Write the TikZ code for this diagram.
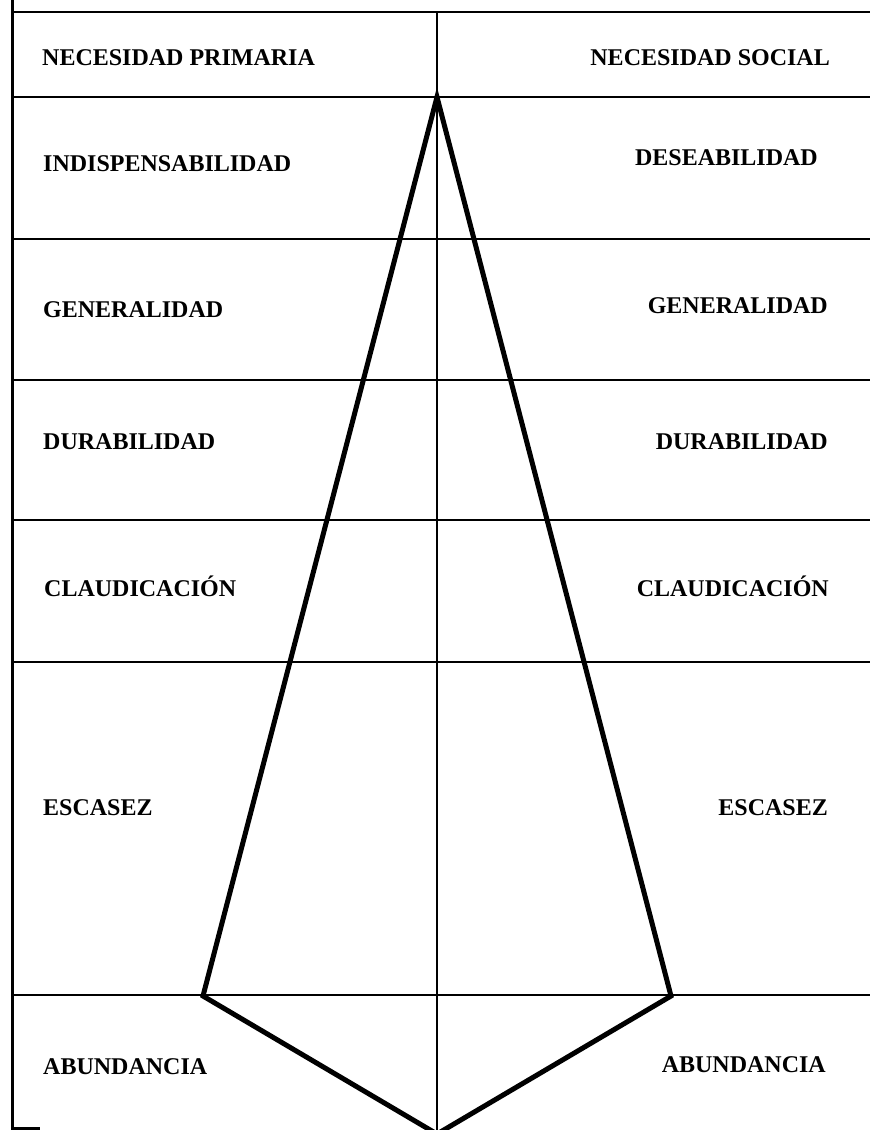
\documentclass[tikz,border=0pt]{standalone}
\usepackage{fontspec}
\setmainfont{Liberation Serif}
\tikzset{
  lab/.style={font=\fontsize{24}{24}\selectfont\bfseries, inner sep=0pt},
  labl/.style={lab, anchor=base west},
  labr/.style={lab, anchor=base east},
  rule/.style={line width=2.2pt, black},
  frame/.style={line width=3pt, black},
  tri/.style={line width=5pt, black, line join=miter}
}
\begin{document}
\begin{tikzpicture}[x=1pt,y=-1pt]
\useasboundingbox (0,0) rectangle (870,1130);
% frame
\draw[frame] (12,0) -- (12,1128) -- (40,1128);
\foreach \yy in {12,97,239,380,520,662,995}
  \draw[rule] (11,\yy) -- (870,\yy);
\draw[rule] (437,12) -- (437,1130);
% triangle
\coordinate (apex) at (437,97);
\coordinate (lb) at (203,996);
\coordinate (rb) at (671,996);
\coordinate (bot) at (437,1134);
\draw[tri] (lb) -- (apex) -- (rb) -- (bot) -- (lb) -- cycle;
% left labels
\node[labl] (l1) at (42,65) {NECESIDAD PRIMARIA};
\node[labl] (l2) at (43,171) {INDISPENSABILIDAD};
\node[labl] (l3) at (43,317) {GENERALIDAD};
\node[labl] (l4) at (43,449) {DURABILIDAD};
\node[labl] (l5) at (44,596) {CLAUDICACIÓN};
\node[labl] (l6) at (43,815) {ESCASEZ};
\node[labl] (l7) at (43,1074) {ABUNDANCIA};
% right labels
\node[labr] (r1) at (830,65) {NECESIDAD SOCIAL};
\node[labr] (r2) at (818,165) {DESEABILIDAD};
\node[labr] (r3) at (828,313) {GENERALIDAD};
\node[labr] (r4) at (828,449) {DURABILIDAD};
\node[labr] (r5) at (829,596) {CLAUDICACIÓN};
\node[labr] (r6) at (828,815) {ESCASEZ};
\node[labr] (r7) at (826,1072) {ABUNDANCIA};
\end{tikzpicture}
\end{document}
